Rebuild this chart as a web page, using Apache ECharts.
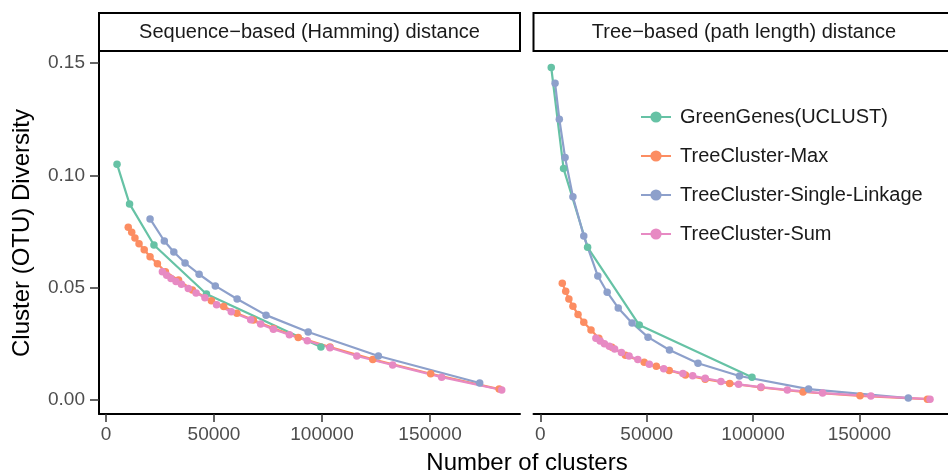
<!DOCTYPE html>
<html>
<head>
<meta charset="utf-8">
<script src="https://cdn.jsdelivr.net/npm/echarts@6/dist/echarts.min.js"></script>
<style>
  html, body { margin: 0; padding: 0; background: #fff; }
  #myChart { width: 948px; height: 475px; }
</style>
</head>
<body>
<div id="myChart"></div>
<script>
// series names, in ggplot draw order
var names = ['GreenGenes(UCLUST)', 'TreeCluster-Max', 'TreeCluster-Single-Linkage', 'TreeCluster-Sum'];
var colors = ['#66C2A5', '#FC8D62', '#8DA0CB', '#E78AC3'];
var panels = ['Sequence\u2212based (Hamming) distance', 'Tree\u2212based (path length) distance'];

var xTicks = [0, 50000, 100000, 150000];
var yTicks = [0, 0.05, 0.10, 0.15];

var greenX = [5100, 10900, 22200, 46500, 99500];
var greenSeq = [0.105, 0.0873, 0.069, 0.0472, 0.0236];
var greenTree = [0.148, 0.103, 0.068, 0.0334, 0.0102];

var orangeX = [10300, 11900, 13400, 15300, 17700, 20400, 23800, 27500, 33600, 40000, 48800, 54500, 60600, 68200, 77500, 89000, 103700, 123500, 150300, 182000];
var orangeSeq = [0.0769, 0.0747, 0.0721, 0.0696, 0.0669, 0.0638, 0.0607, 0.0571, 0.0534, 0.049, 0.0442, 0.0416, 0.0386, 0.0356, 0.0319, 0.0279, 0.0236, 0.0181, 0.0117, 0.0049];
var orangeTree = [0.052, 0.0484, 0.045, 0.0417, 0.0381, 0.0346, 0.0312, 0.0275, 0.0235, 0.0199, 0.0168, 0.015, 0.0132, 0.0112, 0.0093, 0.0074, 0.0056, 0.0036, 0.0019, 0.0004];

var blueX = [6900, 8900, 11600, 15300, 20400, 27000, 31400, 36600, 43100, 50600, 60700, 74100, 93600, 126100, 173000];
var blueSeq = [null, null, null, null, 0.0806, 0.0708, 0.0659, 0.061, 0.056, 0.0508, 0.045, 0.0378, 0.0303, 0.0196, 0.0076];
var blueTree = [0.141, 0.125, 0.108, 0.0905, 0.073, 0.0552, 0.048, 0.041, 0.0343, 0.028, 0.0223, 0.0164, 0.0107, 0.0049, 0.0009];

var pinkX = [26100, 28100, 30100, 32400, 34900, 38100, 41700, 45800, 51200, 58000, 67000, 71600, 77500, 84900, 93200, 103700, 116100, 132700, 155400, 183200];
var pinkSeq = [0.0571, 0.0555, 0.0541, 0.0528, 0.0515, 0.0497, 0.0477, 0.0455, 0.0424, 0.0393, 0.0357, 0.0338, 0.0315, 0.0291, 0.0264, 0.0233, 0.0196, 0.0156, 0.0102, 0.0045];
var pinkTree = [0.0275, 0.0263, 0.0251, 0.024, 0.0227, 0.0212, 0.0196, 0.0181, 0.0159, 0.0139, 0.0118, 0.0108, 0.0097, 0.0083, 0.007, 0.0058, 0.0045, 0.0031, 0.0018, 0.0004];

var xs = [greenX, orangeX, blueX, pinkX];
var ysByPanel = [
  [greenSeq, orangeSeq, blueSeq, pinkSeq],
  [greenTree, orangeTree, blueTree, pinkTree]
];

var font = '"Liberation Sans", Arial, Helvetica, sans-serif';
var gridLefts = [99, 533.5];

function pairs (x, y) {
  var out = [];
  for (var i = 0; i < x.length; i++) {
    out.push([x[i], y[i]]);
  }
  return out;
}

var grids = [], xAxes = [], yAxes = [], series = [], graphics = [];

for (var p = 0; p < 2; p++) {
  grids.push({ left: gridLefts[p], top: 52, width: 421, height: 362 });
  xAxes.push({
    type: 'value', gridIndex: p, min: -3240, max: 191660,
    splitLine: { show: false },
    axisLine: { onZero: false, lineStyle: { color: '#000', width: 2 } },
    axisTick: { length: 8, customValues: xTicks, lineStyle: { color: '#333', width: 1.5 } },
    axisLabel: {
      customValues: xTicks, margin: 11, color: '#4d4d4d', fontSize: 19, fontFamily: font,
      formatter: function (v) { return String(v); }
    }
  });
  yAxes.push({
    type: 'value', gridIndex: p, min: -0.0062, max: 0.1549,
    show: p === 0,
    splitLine: { show: false },
    axisLine: { show: true, onZero: false, lineStyle: { color: '#000', width: 2 } },
    axisTick: { length: 9, customValues: yTicks, lineStyle: { color: '#333', width: 1.5 } },
    axisLabel: {
      customValues: yTicks, margin: 14, color: '#4d4d4d', fontSize: 19, fontFamily: font,
      formatter: function (v) { return v.toFixed(2); }
    }
  });
  for (var s = 0; s < 4; s++) {
    series.push({
      name: names[s], type: 'line', xAxisIndex: p, yAxisIndex: p,
      data: pairs(xs[s], ysByPanel[p][s]),
      color: colors[s],
      symbol: 'circle', symbolSize: 7.5,
      lineStyle: { width: 2.2 },
      emphasis: { disabled: true }
    });
  }
  // facet strip
  graphics.push({
    type: 'rect', shape: { x: gridLefts[p], y: 13, width: 421, height: 38 },
    style: { fill: '#fff', stroke: '#000', lineWidth: 2 }
  });
  graphics.push({
    type: 'text', x: gridLefts[p] + 210.5, y: 32,
    style: { text: panels[p], fill: '#1a1a1a', font: '20px ' + font, textAlign: 'center', textVerticalAlign: 'middle' }
  });
}

// axis titles
graphics.push({
  type: 'text', x: 527, y: 463,
  style: { text: 'Number of clusters', fill: '#000', font: '24px ' + font, textAlign: 'center', textVerticalAlign: 'middle' }
});
graphics.push({
  type: 'text', x: 22, y: 233, rotation: Math.PI / 2,
  style: { text: 'Cluster (OTU) Diversity', fill: '#000', font: '24px ' + font, textAlign: 'center', textVerticalAlign: 'middle' }
});

var myChart = echarts.init(document.getElementById('myChart'));
myChart.setOption({
  animation: false,
  backgroundColor: '#fff',
  grid: grids,
  xAxis: xAxes,
  yAxis: yAxes,
  legend: {
    data: names, orient: 'vertical', left: 635, top: 102,
    itemWidth: 30, itemHeight: 14, itemGap: 19,
    textStyle: { fontSize: 20, color: '#1a1a1a', fontFamily: font, padding: [0, 0, 0, 4] }
  },
  graphic: graphics,
  series: series
});
</script>
</body>
</html>
